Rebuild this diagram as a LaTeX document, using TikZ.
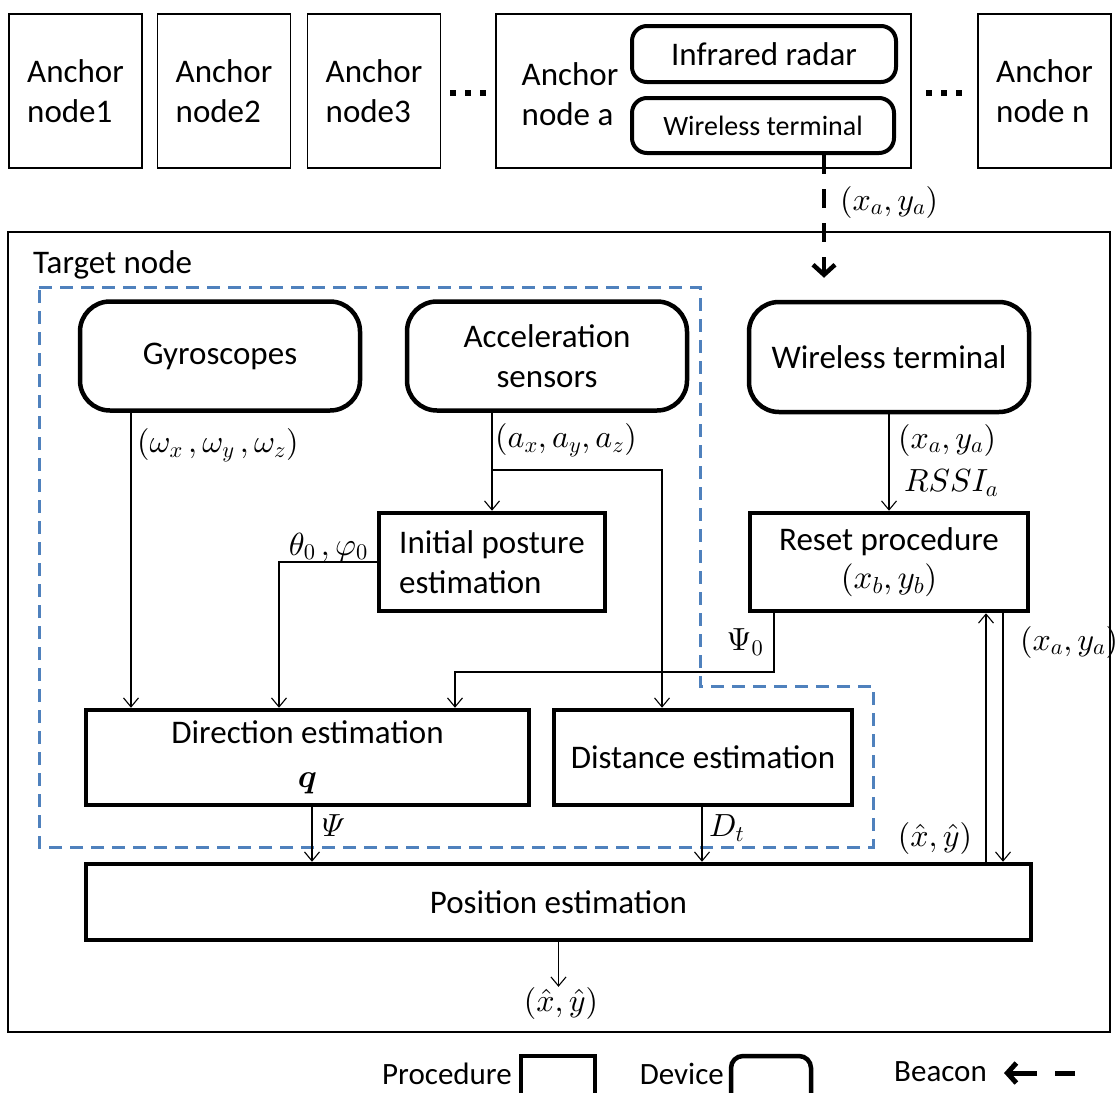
\documentclass[tikz,border=0pt]{standalone}
\usepackage{amsmath}
\usepackage{fontspec}
\setmainfont{Carlito}
\usetikzlibrary{arrows.meta}
\definecolor{groupblue}{RGB}{79,129,189}
% scalable Computer Modern math fonts for the large labels
\DeclareFontShape{OML}{cmm}{m}{it}{<-> cmmi10}{}
\DeclareFontShape{OML}{cmm}{b}{it}{<-> cmmib10}{}
\DeclareFontShape{OMS}{cmsy}{m}{n}{<-> cmsy10}{}
\DeclareFontShape{OMS}{cmsy}{b}{n}{<-> cmbsy10}{}
\DeclareFontShape{OT1}{cmr}{m}{n}{<-> cmr10}{}
\DeclareFontShape{OT1}{cmr}{bx}{n}{<-> cmbx10}{}
\DeclareFontShape{OMX}{cmex}{m}{n}{<-> cmex10}{}

\begin{document}
\begin{tikzpicture}[x=1pt,y=-1pt,
  txt/.style={font=\fontsize{33}{40}\selectfont, inner sep=0pt},
  key/.style={font=\fontsize{31}{38}\selectfont, inner sep=0pt},
  lbl/.style={font=\fontsize{32}{38}\selectfont, inner sep=0pt},
  anchorbox/.style={draw, line width=1.4pt, minimum width=133pt, minimum height=154pt,
                    inner sep=0pt, txt, align=left},
  device/.style={draw, line width=4.5pt, rounded corners=30pt, inner sep=0pt, txt, align=center},
  proc/.style={draw, line width=4.5pt, inner sep=0pt, txt, align=center},
  conn/.style={line width=1.1pt, -{Straight Barb[length=9pt,width=15pt]}},
  beacon/.style={line width=4.5pt, dash pattern=on 19pt off 15pt,
                 -{Straight Barb[length=10pt,width=22pt]}},
  group/.style={groupblue, line width=3pt, dash pattern=on 13pt off 8pt},
  dot/.style={fill=black},
]
\useasboundingbox (0,0) rectangle (1116,1092);

% ---------- anchor nodes ----------
\node[anchorbox] (an1) at (75.5,91) {Anchor\\node1};
\node[anchorbox] (an2) at (224,91) {Anchor\\node2};
\node[anchorbox] (an3) at (374,91) {Anchor\\node3};
\node[anchorbox, minimum width=415pt] (ana) at (703.5,91) {};
\node[txt, align=left] (anat) at (570,94) {Anchor\\node a};
\node[device, rounded corners=15pt, line width=4pt, minimum width=264pt, minimum height=56pt]
  (ir) at (764,54) {Infrared radar};
\node[device, rounded corners=15pt, line width=4pt, minimum width=262pt, minimum height=55pt,
      font=\fontsize{28}{34}\selectfont]
  (wa) at (763,125.5) {Wireless terminal};
\node[anchorbox] (ann) at (1044.5,91) {Anchor\\node n};

% ellipses between anchors
\foreach \x in {453,468,483,929,944,959}
  \fill[dot] (\x-3,90) rectangle (\x+3,96);

% ---------- target node ----------
\node[draw, line width=1.4pt, minimum width=1102pt, minimum height=800pt, inner sep=0pt]
  (target) at (559,632) {};
\node[txt, anchor=west] (tn) at (33,265) {Target node};

% inertial group
\draw[group] (39,287) -- (700,287) -- (700,686) -- (873,686) -- (873,847) -- (39,847) -- cycle;

% devices
\node[device, minimum width=280pt, minimum height=109pt] (gyro) at (220,356) {Gyroscopes};
\node[device, minimum width=280pt, minimum height=109pt] (acc) at (547,356) {Acceleration\\sensors};
\node[device, minimum width=280pt, minimum height=110pt] (wt) at (889,357) {Wireless terminal};

% procedures
\node[proc, minimum width=226pt, minimum height=98pt, align=left] (ipe) at (492,562)
  {Initial posture\\estimation};
\node[proc, minimum width=278pt, minimum height=98pt] (reset) at (889,562)
  {\rule{0pt}{12pt}Reset procedure\\[-2pt]$(x_b,y_b)$};
\node[proc, minimum width=443pt, minimum height=95pt] (dir) at (307.5,757.5)
  {\rule{0pt}{14pt}Direction estimation\\[4pt]$\boldsymbol{q}$};
\node[proc, minimum width=298pt, minimum height=95pt] (dist) at (703,757.5)
  {Distance estimation};
\node[proc, minimum width=945pt, minimum height=76pt] (pos) at (558.5,902)
  {Position estimation};
\node[lbl] (out) at (561,1003) {$(\hat{x},\hat{y})$};

% connector columns and rows
\coordinate (cg) at (131,0);
\coordinate (ct) at (279,0);
\coordinate (cp) at (455,0);
\coordinate (cd) at (662,0);
\coordinate (cr) at (774,0);
\coordinate (cb) at (824,0);
\coordinate (cu) at (986,0);
\coordinate (cn) at (1003,0);
\coordinate (cpsi) at (312,0);
\coordinate (cdt) at (702,0);
\coordinate (brow) at (0,470);
\coordinate (prow) at (0,672);

% beacon from anchor a
\draw[beacon, shorten >=22pt] (wa.south -| cb) -- (wt.north -| cb);
\node[lbl, anchor=west] (lxa) at (840,202) {$(x_a,y_a)$};

% signal flow
\draw[conn] (gyro.south -| cg) -- (dir.north -| cg);
\node[lbl, anchor=west] (lw) at (137,445) {$(\omega_x\,,\omega_y\,,\omega_z)$};

\draw[conn] (acc.south -| ipe.north) -- (ipe.north);
\draw[conn] (brow -| ipe.north) -| (dist.north -| cd);
\node[lbl, anchor=west] (la) at (495,440) {$(a_x,a_y,a_z)$};

\draw[conn] (ipe.west) -| (dir.north -| ct);
\node[lbl, anchor=east] (lth) at (368,547) {$\theta_0\,,\varphi_0$};

\draw[conn] (reset.south -| cr) |- (prow -| cp) -- (dir.north -| cp);
\node[lbl] (lpsi0) at (745,642) {$\Psi_0$};

\draw[conn] (wt.south) -- (reset.north);
\node[lbl, anchor=west] (lxa2) at (898,440) {$(x_a,y_a)$};
\node[lbl, anchor=west] (lrssi) at (904,483) {$RSSI_a$};

\draw[conn] (pos.north -| cu) -- (reset.south -| cu);
\draw[conn] (reset.south -| cn) -- (pos.north -| cn);
\node[lbl, anchor=west] (lxa3) at (1020,642) {$(x_a,y_a)$};
\node[lbl] (lhat) at (935,838) {$(\hat{x},\hat{y})$};

\draw[conn] (dir.south -| cpsi) -- (pos.north -| cpsi);
\node[lbl, anchor=west] (lpsi) at (322,826) {$\varPsi$};
\draw[conn] (dist.south -| cdt) -- (pos.north -| cdt);
\node[lbl, anchor=west] (ldt) at (709,828) {$D_t$};

\draw[conn] (pos.south) -- (pos.south |- out.north);

% ---------- legend ----------
\node[key, anchor=east] (kproc) at (512,1074) {Procedure};
\node[proc, minimum width=74pt, minimum height=54pt] (kprocbox) at (558,1083) {};
\node[key, anchor=east] (kdev) at (724,1074) {Device};
\node[device, rounded corners=12pt, minimum width=80pt, minimum height=54pt] (kdevbox) at (771,1083) {};
\node[key, anchor=west] (kbea) at (894,1072) {Beacon};
\coordinate (kb1) at (1037,1073);
\coordinate (kb0) at (1004,1073);
\coordinate (kb2) at (1055,1073);
\coordinate (kb3) at (1075,1073);
\draw[line width=5pt, -{Straight Barb[length=9pt,width=20pt]}] (kb1) -- (kb0);
\draw[line width=5pt] (kb2) -- (kb3);
\end{tikzpicture}
\end{document}
